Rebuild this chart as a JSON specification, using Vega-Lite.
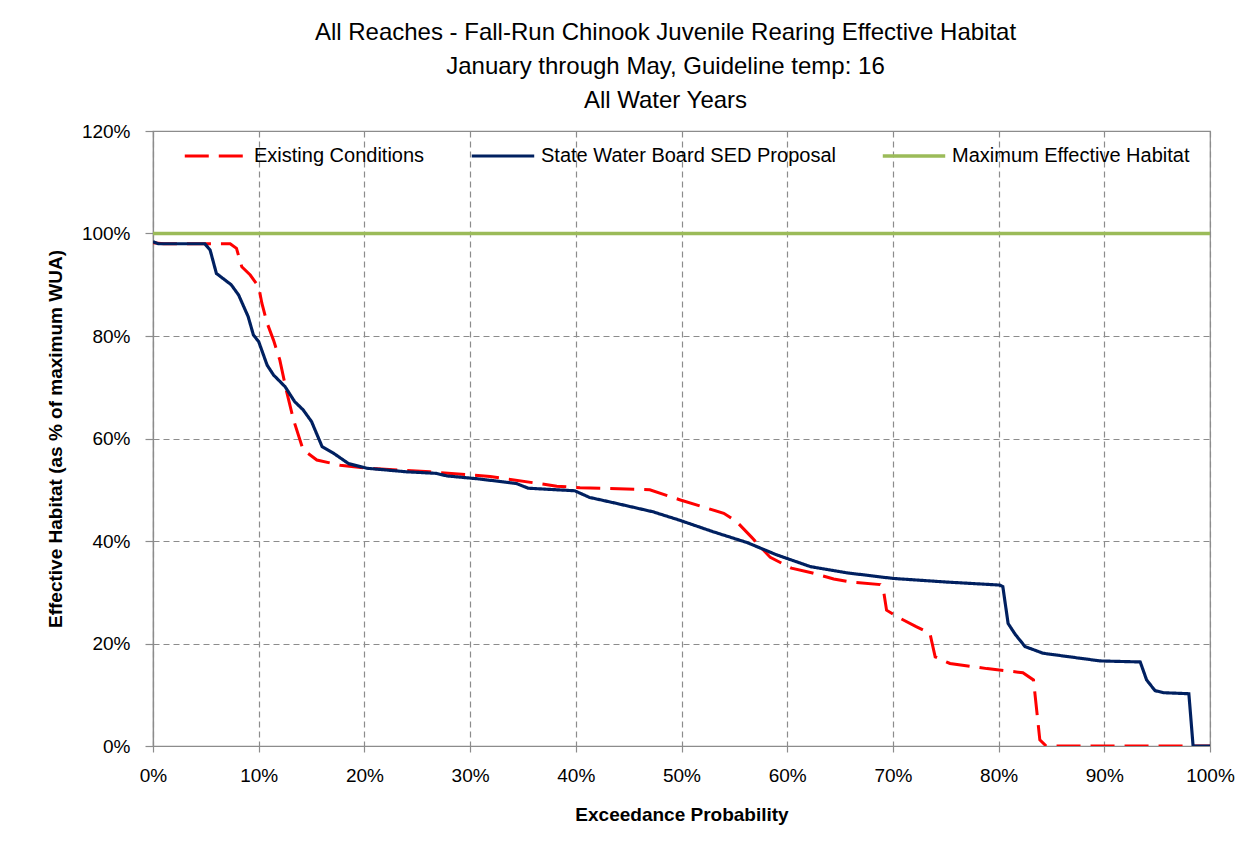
{
  "$schema": "https://vega.github.io/schema/vega-lite/v6.json",
  "autosize": {"type": "none"},
  "width": 1057,
  "height": 615,
  "padding": {"left": 153, "top": 131, "right": 39, "bottom": 117},
  "background": "white",
  "config": {
    "font": "Liberation Sans",
    "view": {"stroke": "#8c8c8c", "strokeWidth": 1.2},
    "axis": {
      "labelFont": "Liberation Sans",
      "titleFont": "Liberation Sans",
      "labelFontSize": 19,
      "labelColor": "#000",
      "titleColor": "#000",
      "titleFontSize": 19,
      "titleFontWeight": "bold",
      "gridColor": "#8c8c8c",
      "gridDash": [6, 4],
      "gridWidth": 1.2,
      "domainColor": "#8c8c8c",
      "domainWidth": 1.2,
      "tickColor": "#8c8c8c",
      "tickWidth": 1.2,
      "labelFlush": false
    },
    "legend": {
      "labelFont": "Liberation Sans",
      "labelFontSize": 20,
      "labelColor": "#000",
      "labelLimit": 0
    }
  },
  "title": {
    "text": ["All Reaches - Fall-Run Chinook Juvenile Rearing Effective Habitat", "January through May, Guideline temp: 16", "All Water Years"],
    "fontSize": 24,
    "fontWeight": "normal",
    "color": "#000",
    "font": "Liberation Sans",
    "anchor": "middle",
    "lineHeight": 34,
    "offset": 9,
    "dx": -16
  },
  "data": {
    "values": [
      {"series": "Existing Conditions", "x": 0, "y": 98.2},
      {"series": "Existing Conditions", "x": 1, "y": 98.0},
      {"series": "Existing Conditions", "x": 5, "y": 98.0},
      {"series": "Existing Conditions", "x": 7.3, "y": 98.0},
      {"series": "Existing Conditions", "x": 7.9, "y": 97.1},
      {"series": "Existing Conditions", "x": 8.4, "y": 93.5},
      {"series": "Existing Conditions", "x": 9.2, "y": 91.9},
      {"series": "Existing Conditions", "x": 10.0, "y": 89.6},
      {"series": "Existing Conditions", "x": 10.3, "y": 86.4},
      {"series": "Existing Conditions", "x": 10.8, "y": 82.5},
      {"series": "Existing Conditions", "x": 11.4, "y": 79.2},
      {"series": "Existing Conditions", "x": 12.0, "y": 75.3},
      {"series": "Existing Conditions", "x": 12.6, "y": 69.5},
      {"series": "Existing Conditions", "x": 13.3, "y": 63.6},
      {"series": "Existing Conditions", "x": 14.2, "y": 57.8},
      {"series": "Existing Conditions", "x": 15.5, "y": 55.8},
      {"series": "Existing Conditions", "x": 17.7, "y": 54.8},
      {"series": "Existing Conditions", "x": 20.2, "y": 54.2},
      {"series": "Existing Conditions", "x": 26.2, "y": 53.5},
      {"series": "Existing Conditions", "x": 31.9, "y": 52.6},
      {"series": "Existing Conditions", "x": 38.2, "y": 50.7},
      {"series": "Existing Conditions", "x": 40.4, "y": 50.4},
      {"series": "Existing Conditions", "x": 47.0, "y": 50.0},
      {"series": "Existing Conditions", "x": 49.9, "y": 48.0},
      {"series": "Existing Conditions", "x": 54.0, "y": 45.4},
      {"series": "Existing Conditions", "x": 55.2, "y": 43.8},
      {"series": "Existing Conditions", "x": 56.6, "y": 40.8},
      {"series": "Existing Conditions", "x": 58.4, "y": 36.8},
      {"series": "Existing Conditions", "x": 60.4, "y": 34.7},
      {"series": "Existing Conditions", "x": 62.3, "y": 33.8},
      {"series": "Existing Conditions", "x": 64.4, "y": 32.6},
      {"series": "Existing Conditions", "x": 66.0, "y": 32.0},
      {"series": "Existing Conditions", "x": 68.8, "y": 31.5},
      {"series": "Existing Conditions", "x": 69.1, "y": 30.5},
      {"series": "Existing Conditions", "x": 69.4, "y": 26.5},
      {"series": "Existing Conditions", "x": 70.7, "y": 24.9},
      {"series": "Existing Conditions", "x": 72.2, "y": 23.3},
      {"series": "Existing Conditions", "x": 73.5, "y": 22.0},
      {"series": "Existing Conditions", "x": 74.0, "y": 17.4},
      {"series": "Existing Conditions", "x": 75.4, "y": 16.1},
      {"series": "Existing Conditions", "x": 78.9, "y": 15.1},
      {"series": "Existing Conditions", "x": 82.3, "y": 14.3},
      {"series": "Existing Conditions", "x": 83.3, "y": 12.9},
      {"series": "Existing Conditions", "x": 83.9, "y": 1.2},
      {"series": "Existing Conditions", "x": 84.5, "y": 0},
      {"series": "Existing Conditions", "x": 100, "y": 0},
      {"series": "State Water Board SED Proposal", "x": 0, "y": 98.4},
      {"series": "State Water Board SED Proposal", "x": 0.5, "y": 98.0},
      {"series": "State Water Board SED Proposal", "x": 4.9, "y": 98.0},
      {"series": "State Water Board SED Proposal", "x": 5.4, "y": 96.8},
      {"series": "State Water Board SED Proposal", "x": 6.0, "y": 92.2},
      {"series": "State Water Board SED Proposal", "x": 7.4, "y": 90.0},
      {"series": "State Water Board SED Proposal", "x": 8.1, "y": 88.0},
      {"series": "State Water Board SED Proposal", "x": 9.0, "y": 83.8},
      {"series": "State Water Board SED Proposal", "x": 9.5, "y": 80.2},
      {"series": "State Water Board SED Proposal", "x": 10.0, "y": 78.9},
      {"series": "State Water Board SED Proposal", "x": 10.8, "y": 74.3},
      {"series": "State Water Board SED Proposal", "x": 11.4, "y": 72.4},
      {"series": "State Water Board SED Proposal", "x": 12.5, "y": 70.1},
      {"series": "State Water Board SED Proposal", "x": 13.4, "y": 67.2},
      {"series": "State Water Board SED Proposal", "x": 14.2, "y": 65.6},
      {"series": "State Water Board SED Proposal", "x": 15.0, "y": 63.3},
      {"series": "State Water Board SED Proposal", "x": 16.0, "y": 58.4},
      {"series": "State Water Board SED Proposal", "x": 17.1, "y": 57.1},
      {"series": "State Water Board SED Proposal", "x": 18.5, "y": 55.1},
      {"series": "State Water Board SED Proposal", "x": 20.2, "y": 54.2},
      {"series": "State Water Board SED Proposal", "x": 24.0, "y": 53.5},
      {"series": "State Water Board SED Proposal", "x": 26.8, "y": 53.2},
      {"series": "State Water Board SED Proposal", "x": 27.8, "y": 52.7},
      {"series": "State Water Board SED Proposal", "x": 30.9, "y": 52.1},
      {"series": "State Water Board SED Proposal", "x": 34.4, "y": 51.2},
      {"series": "State Water Board SED Proposal", "x": 35.5, "y": 50.3},
      {"series": "State Water Board SED Proposal", "x": 39.9, "y": 49.8},
      {"series": "State Water Board SED Proposal", "x": 41.3, "y": 48.5},
      {"series": "State Water Board SED Proposal", "x": 43.5, "y": 47.5},
      {"series": "State Water Board SED Proposal", "x": 47.3, "y": 45.7},
      {"series": "State Water Board SED Proposal", "x": 49.9, "y": 44.0},
      {"series": "State Water Board SED Proposal", "x": 53.0, "y": 41.8},
      {"series": "State Water Board SED Proposal", "x": 56.2, "y": 39.7},
      {"series": "State Water Board SED Proposal", "x": 59.0, "y": 37.3},
      {"series": "State Water Board SED Proposal", "x": 62.2, "y": 35.0},
      {"series": "State Water Board SED Proposal", "x": 65.6, "y": 33.8},
      {"series": "State Water Board SED Proposal", "x": 70.0, "y": 32.7},
      {"series": "State Water Board SED Proposal", "x": 75.0, "y": 32.0},
      {"series": "State Water Board SED Proposal", "x": 80.1, "y": 31.4},
      {"series": "State Water Board SED Proposal", "x": 80.4, "y": 31.1},
      {"series": "State Water Board SED Proposal", "x": 80.9, "y": 23.9},
      {"series": "State Water Board SED Proposal", "x": 81.6, "y": 21.7},
      {"series": "State Water Board SED Proposal", "x": 82.0, "y": 20.7},
      {"series": "State Water Board SED Proposal", "x": 82.5, "y": 19.4},
      {"series": "State Water Board SED Proposal", "x": 84.2, "y": 18.1},
      {"series": "State Water Board SED Proposal", "x": 89.6, "y": 16.6},
      {"series": "State Water Board SED Proposal", "x": 93.4, "y": 16.4},
      {"series": "State Water Board SED Proposal", "x": 94.0, "y": 12.9},
      {"series": "State Water Board SED Proposal", "x": 94.8, "y": 10.8},
      {"series": "State Water Board SED Proposal", "x": 95.6, "y": 10.4},
      {"series": "State Water Board SED Proposal", "x": 98.0, "y": 10.2},
      {"series": "State Water Board SED Proposal", "x": 98.4, "y": 0},
      {"series": "State Water Board SED Proposal", "x": 100, "y": 0},
      {"series": "Maximum Effective Habitat", "x": 0, "y": 100},
      {"series": "Maximum Effective Habitat", "x": 100, "y": 100}
    ]
  },
  "mark": {"type": "line", "clip": true},
  "encoding": {
    "x": {
      "field": "x",
      "type": "quantitative",
      "scale": {"domain": [0, 100], "nice": false},
      "axis": {
        "values": [0, 10, 20, 30, 40, 50, 60, 70, 80, 90, 100],
        "labelExpr": "datum.value + '%'",
        "title": "Exceedance Probability",
        "tickSize": 6,
        "labelPadding": 14,
        "titlePadding": 20
      }
    },
    "y": {
      "field": "y",
      "type": "quantitative",
      "scale": {"domain": [0, 120], "nice": false},
      "axis": {
        "values": [0, 20, 40, 60, 80, 100, 120],
        "labelExpr": "datum.value + '%'",
        "title": "Effective Habitat (as % of maximum WUA)",
        "tickSize": 8,
        "labelPadding": 15,
        "titlePadding": 16
      }
    },
    "color": {
      "field": "series",
      "type": "nominal",
      "scale": {
        "domain": ["Existing Conditions", "State Water Board SED Proposal", "Maximum Effective Habitat"],
        "range": ["#ff0000", "#002060", "#9bbb59"]
      },
      "legend": {
        "title": null,
        "orient": "none",
        "legendX": 30,
        "legendY": -8,
        "direction": "horizontal",
        "symbolType": "stroke",
        "symbolSize": 3900,
        "symbolStrokeWidth": 3.5,
        "labelOffset": 5,
        "columnPadding": 40
      }
    },
    "strokeDash": {
      "field": "series",
      "type": "nominal",
      "scale": {
        "domain": ["Existing Conditions", "State Water Board SED Proposal", "Maximum Effective Habitat"],
        "range": [[24, 10], [1, 0], [1, 0]]
      },
      "legend": null
    },
    "strokeWidth": {
      "field": "series",
      "type": "nominal",
      "scale": {
        "domain": ["Existing Conditions", "State Water Board SED Proposal", "Maximum Effective Habitat"],
        "range": [3, 3.3, 5]
      },
      "legend": null
    }
  }
}
